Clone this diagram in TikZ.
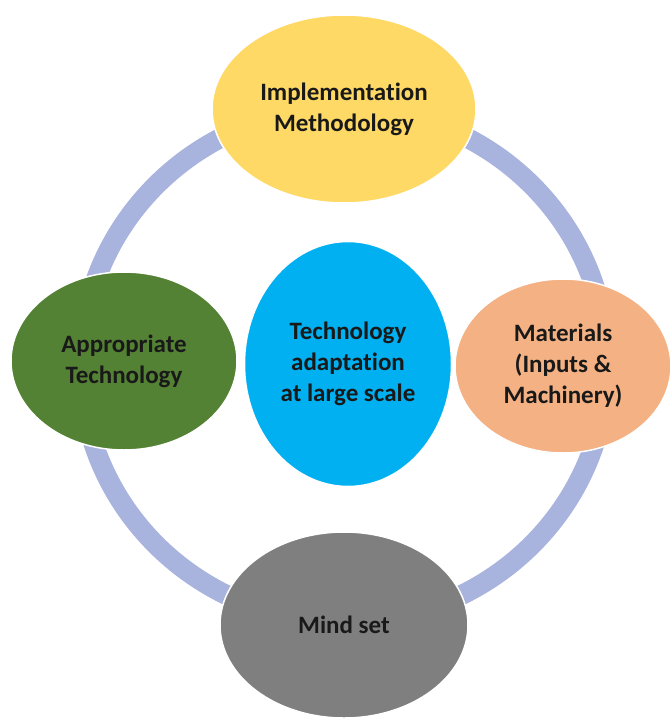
\documentclass[tikz,border=0pt]{standalone}
\usepackage{fontspec}
\setmainfont{Carlito}[Ligatures=NoCommon]
\usepackage{tikz}
\usetikzlibrary{ shapes.geometric, % For ellipse
                 positioning,     % For easy node-relative placements
               }

\definecolor{ringblue}{HTML}{A9B4DE}
\definecolor{methyellow}{HTML}{FFD966}
\definecolor{techgreen}{HTML}{548235}
\definecolor{coreblue}{HTML}{00B0F0}
\definecolor{matorange}{HTML}{F4B183}
\definecolor{mindgray}{HTML}{7F7F7F}

\tikzset{
  bubble/.style={ellipse, draw=white, line width=1.5pt, inner sep=0pt,
                 align=center, text=black!90,
                 font=\fontsize{25}{31}\selectfont\bfseries},
  ring/.style={draw=ringblue, line width=20pt},
}

\begin{document}
\begin{tikzpicture}[x=1pt, y=-1pt]
  \useasboundingbox (0,0) rectangle (672,718);
  \coordinate (hub) at (344,365);
  % the big ring behind everything
  \draw[ring] (hub) ellipse [x radius=263pt, y radius=257pt];

  \node[bubble, fill=methyellow, minimum width=264pt, minimum height=188pt] (method) at (344,109) {Implementation\\Methodology};
  \node[bubble, fill=techgreen, minimum width=226pt, minimum height=178pt] (approp) at (124,361) {Appropriate\\Technology};
  \node[bubble, fill=coreblue, minimum width=207pt, minimum height=245pt] (adapt) at (348,364) {Technology\\adaptation\\at large scale};
  \node[bubble, fill=matorange, minimum width=216pt, minimum height=174pt] (materials) at (563,366) {Materials\\(Inputs \&\\Machinery)};
  \node[bubble, fill=mindgray, minimum width=248pt, minimum height=186pt] (mindset) at (344,625) {Mind set};
\end{tikzpicture}
\end{document}
